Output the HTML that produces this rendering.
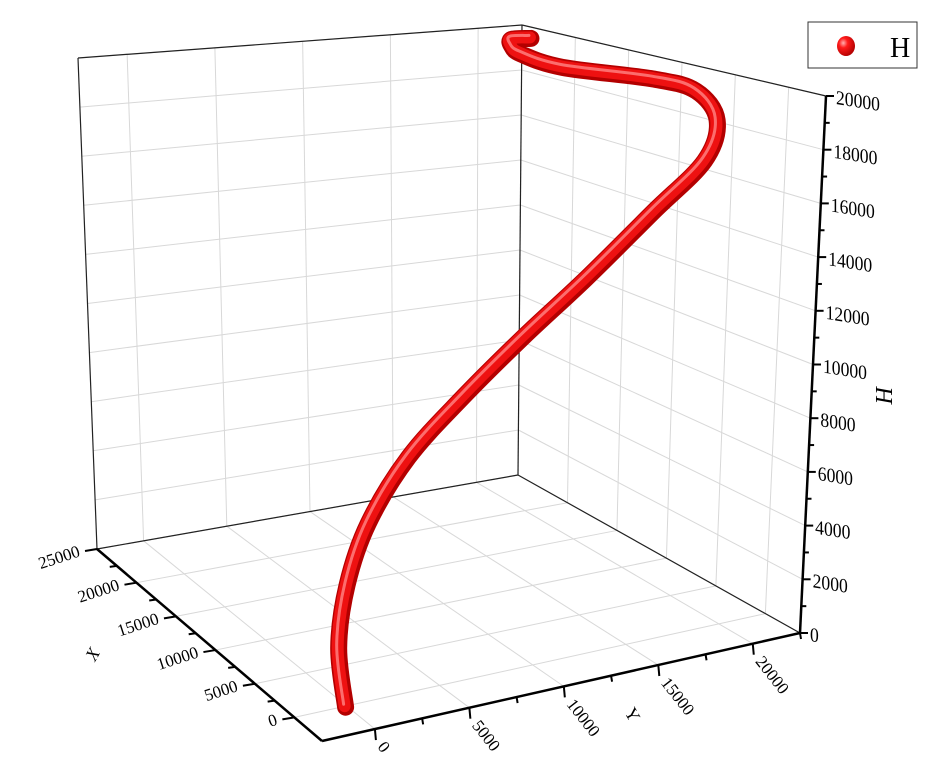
<!DOCTYPE html>
<html><head><meta charset="utf-8"><style>
html,body{margin:0;padding:0;background:#fff;}
svg{display:block;font-family:"Liberation Serif",serif;}
</style></head><body>
<svg id="chart" width="944" height="776" viewBox="0 0 944 776" xmlns="http://www.w3.org/2000/svg">
<g id="grid"></g>
<g id="frame"></g>
<g id="axes"></g>
<g id="series"></g>
<g>
<rect x="808" y="22" width="109" height="46" fill="#fff" stroke="#333" stroke-width="1"/>
<defs><radialGradient id="ball" cx="0.35" cy="0.35" r="0.7"><stop offset="0" stop-color="#ffb0b0"/><stop offset="0.35" stop-color="#ff1a1a"/><stop offset="1" stop-color="#b00000"/></radialGradient></defs>
<ellipse cx="846" cy="46" rx="9" ry="10" fill="url(#ball)"/>
<text x="890" y="57" font-size="28">H</text>
</g>
</svg>
<script>
const xs=[-650,-80,205,205,-80,-650,-650,-650,-80,775,2770,5620,9325,17020,22150,25000,25000,24150];
const ys=[-350,-725,-400,500,2300,4800,7900,11200,15100,18380,20200,20680,20530,19970,20730,21920,21920,22500];
const zs=[150,2090,4110,6100,8220,10160,11950,13750,15800,17380,18590,19400,19500,19200,19150,19100,19400,19500];
const xTicks=[0,5000,10000,15000,20000,25000];
const yTicks=[0,5000,10000,15000,20000];
const zTicks=[0,2000,4000,6000,8000,10000,12000,14000,16000,18000,20000];
const XMIN=-3500,XMAX=25000,YMIN=-2800,YMAX=22500,ZMAX=20000;
const C={f:[[322,741],[382,129]],l:[[97,549],[78,58]],r:[[800,633],[826,96]],b:[[518,475],[522,25]]};
function lerp(a,b,t){return [a[0]+(b[0]-a[0])*t,a[1]+(b[1]-a[1])*t];}
function P(x,y,z){
  const u=(x-XMIN)/(XMAX-XMIN),v=(y-YMIN)/(YMAX-YMIN),w=z/ZMAX;
  const c=k=>lerp(C[k][0],C[k][1],w);
  const a=lerp(c('f'),c('l'),u),b=lerp(c('r'),c('b'),u);
  return lerp(a,b,v);
}
const NS="http://www.w3.org/2000/svg";
function el(tag,attrs,parent){const e=document.createElementNS(NS,tag);for(const k in attrs)e.setAttribute(k,attrs[k]);parent.appendChild(e);return e;}
function line(p,q,parent,st,sw){return el('line',{x1:p[0],y1:p[1],x2:q[0],y2:q[1],stroke:st,'stroke-width':sw},parent);}
const grid=document.getElementById('grid'),frame=document.getElementById('frame'),axes=document.getElementById('axes'),series=document.getElementById('series');
const GC="#d8d8d8";
xTicks.forEach(x=>{const l=line(P(x,YMIN,0),P(x,YMAX,0),grid,GC,1);

});
yTicks.forEach(y=>{const l=line(P(XMIN,y,0),P(XMAX,y,0),grid,GC,1);

});
yTicks.forEach(y=>{const l=line(P(XMAX,y,0),P(XMAX,y,ZMAX),grid,GC,1);

});
zTicks.forEach(z=>{const l=line(P(XMAX,YMIN,z),P(XMAX,YMAX,z),grid,GC,1);

});
xTicks.forEach(x=>{const l=line(P(x,YMAX,0),P(x,YMAX,ZMAX),grid,GC,1);

});
zTicks.forEach(z=>{const l=line(P(XMIN,YMAX,z),P(XMAX,YMAX,z),grid,GC,1);

});
[[P(XMAX,YMIN,0),P(XMAX,YMIN,ZMAX)],[P(XMAX,YMIN,ZMAX),P(XMAX,YMAX,ZMAX)],[P(XMAX,YMAX,ZMAX),P(XMIN,YMAX,ZMAX)],
 [P(XMAX,YMAX,0),P(XMAX,YMAX,ZMAX)],[P(XMAX,YMIN,0),P(XMAX,YMAX,0)],[P(XMAX,YMAX,0),P(XMIN,YMAX,0)]].forEach(s=>{
 const l=line(s[0],s[1],frame,'#222',1.2);
 
 });
line(P(XMAX,YMIN,0),P(XMIN,YMIN,0),axes,'#000',2.5);
for(let x=0;x<=25000;x+=2500){const p=P(x,YMIN,0);const maj=x%5000===0;const t=line(p,[p[0]-(maj?12:7),p[1]+(maj?2:1)],axes,'#000',2);

}
xTicks.forEach(x=>{const p=P(x,YMIN,0);const t=el('text',{x:p[0]-16,y:p[1]+7,'font-size':17,'text-anchor':'end',transform:`rotate(-18 ${p[0]-16} ${p[1]+7})`},axes);t.textContent=x;

});
{const t=el('text',{x:95,y:662,'font-size':18,transform:'rotate(-60 95 662)','font-style':'italic'},axes);t.textContent='X';

}
line(P(XMIN,YMIN,0),P(XMIN,YMAX,0),axes,'#000',2.5);
for(let y=0;y<=22500;y+=2500){const p=P(XMIN,y,0);const maj=y%5000===0;const t=line(p,[p[0]+1,p[1]+(maj?11:6)],axes,'#000',2);

}
yTicks.forEach(y=>{const p=P(XMIN,y,0);const t=el('text',{x:p[0]+2,y:p[1]+18,'font-size':17,transform:`rotate(52 ${p[0]+2} ${p[1]+18})`},axes);t.textContent=y;

});
{const t=el('text',{x:624,y:712,'font-size':18,transform:'rotate(60 624 712)'},axes);t.textContent='Y';

}
line(P(XMIN,YMAX,0),P(XMIN,YMAX,ZMAX),axes,'#000',2.5);
for(let z=0;z<=20000;z+=1000){const p=P(XMIN,YMAX,z);const maj=z%2000===0;const t=line(p,[p[0]+(maj?8:5),p[1]],axes,'#000',2);

}
zTicks.forEach(z=>{const p=P(XMIN,YMAX,z);const t=el('text',{x:p[0]+10,y:p[1]+8,'font-size':20,transform:`translate(${p[0]+10} ${p[1]+8}) scale(0.88 1) skewY(8) translate(${-(p[0]+10)} ${-(p[1]+8)})`},axes);t.textContent=z;

});
{const t=el('text',{x:876,y:395,'font-size':24,'font-style':'italic',transform:'rotate(90 876 395)','text-anchor':'middle'},axes);t.textContent='H';

}
const pts=xs.map((x,i)=>P(x,ys[i],zs[i]));
function crPath(p){let d=`M${p[0][0]},${p[0][1]}`;for(let i=0;i<p.length-1;i++){const p0=p[i-1]||p[i],p1=p[i],p2=p[i+1],p3=p[i+2]||p2;
d+=` C${p1[0]+(p2[0]-p0[0])/6},${p1[1]+(p2[1]-p0[1])/6} ${p2[0]-(p3[0]-p1[0])/6},${p2[1]-(p3[1]-p1[1])/6} ${p2[0]},${p2[1]}`;}return d;}
const d=crPath(pts);
const t1=el('path',{d:d,fill:'none',stroke:'#b30000','stroke-width':17,'stroke-linecap':'round','stroke-linejoin':'round'},series);


const t2=el('path',{d:d,fill:'none',stroke:'#ee1111','stroke-width':12,'stroke-linecap':'round','stroke-linejoin':'round',transform:'translate(-1,-1)'},series);


const t3=el('path',{d:d,fill:'none',stroke:'#ff8585','stroke-width':3,'stroke-linecap':'round','stroke-linejoin':'round',transform:'translate(-2,-3)',opacity:0.8},series);


</script>
</body></html>
